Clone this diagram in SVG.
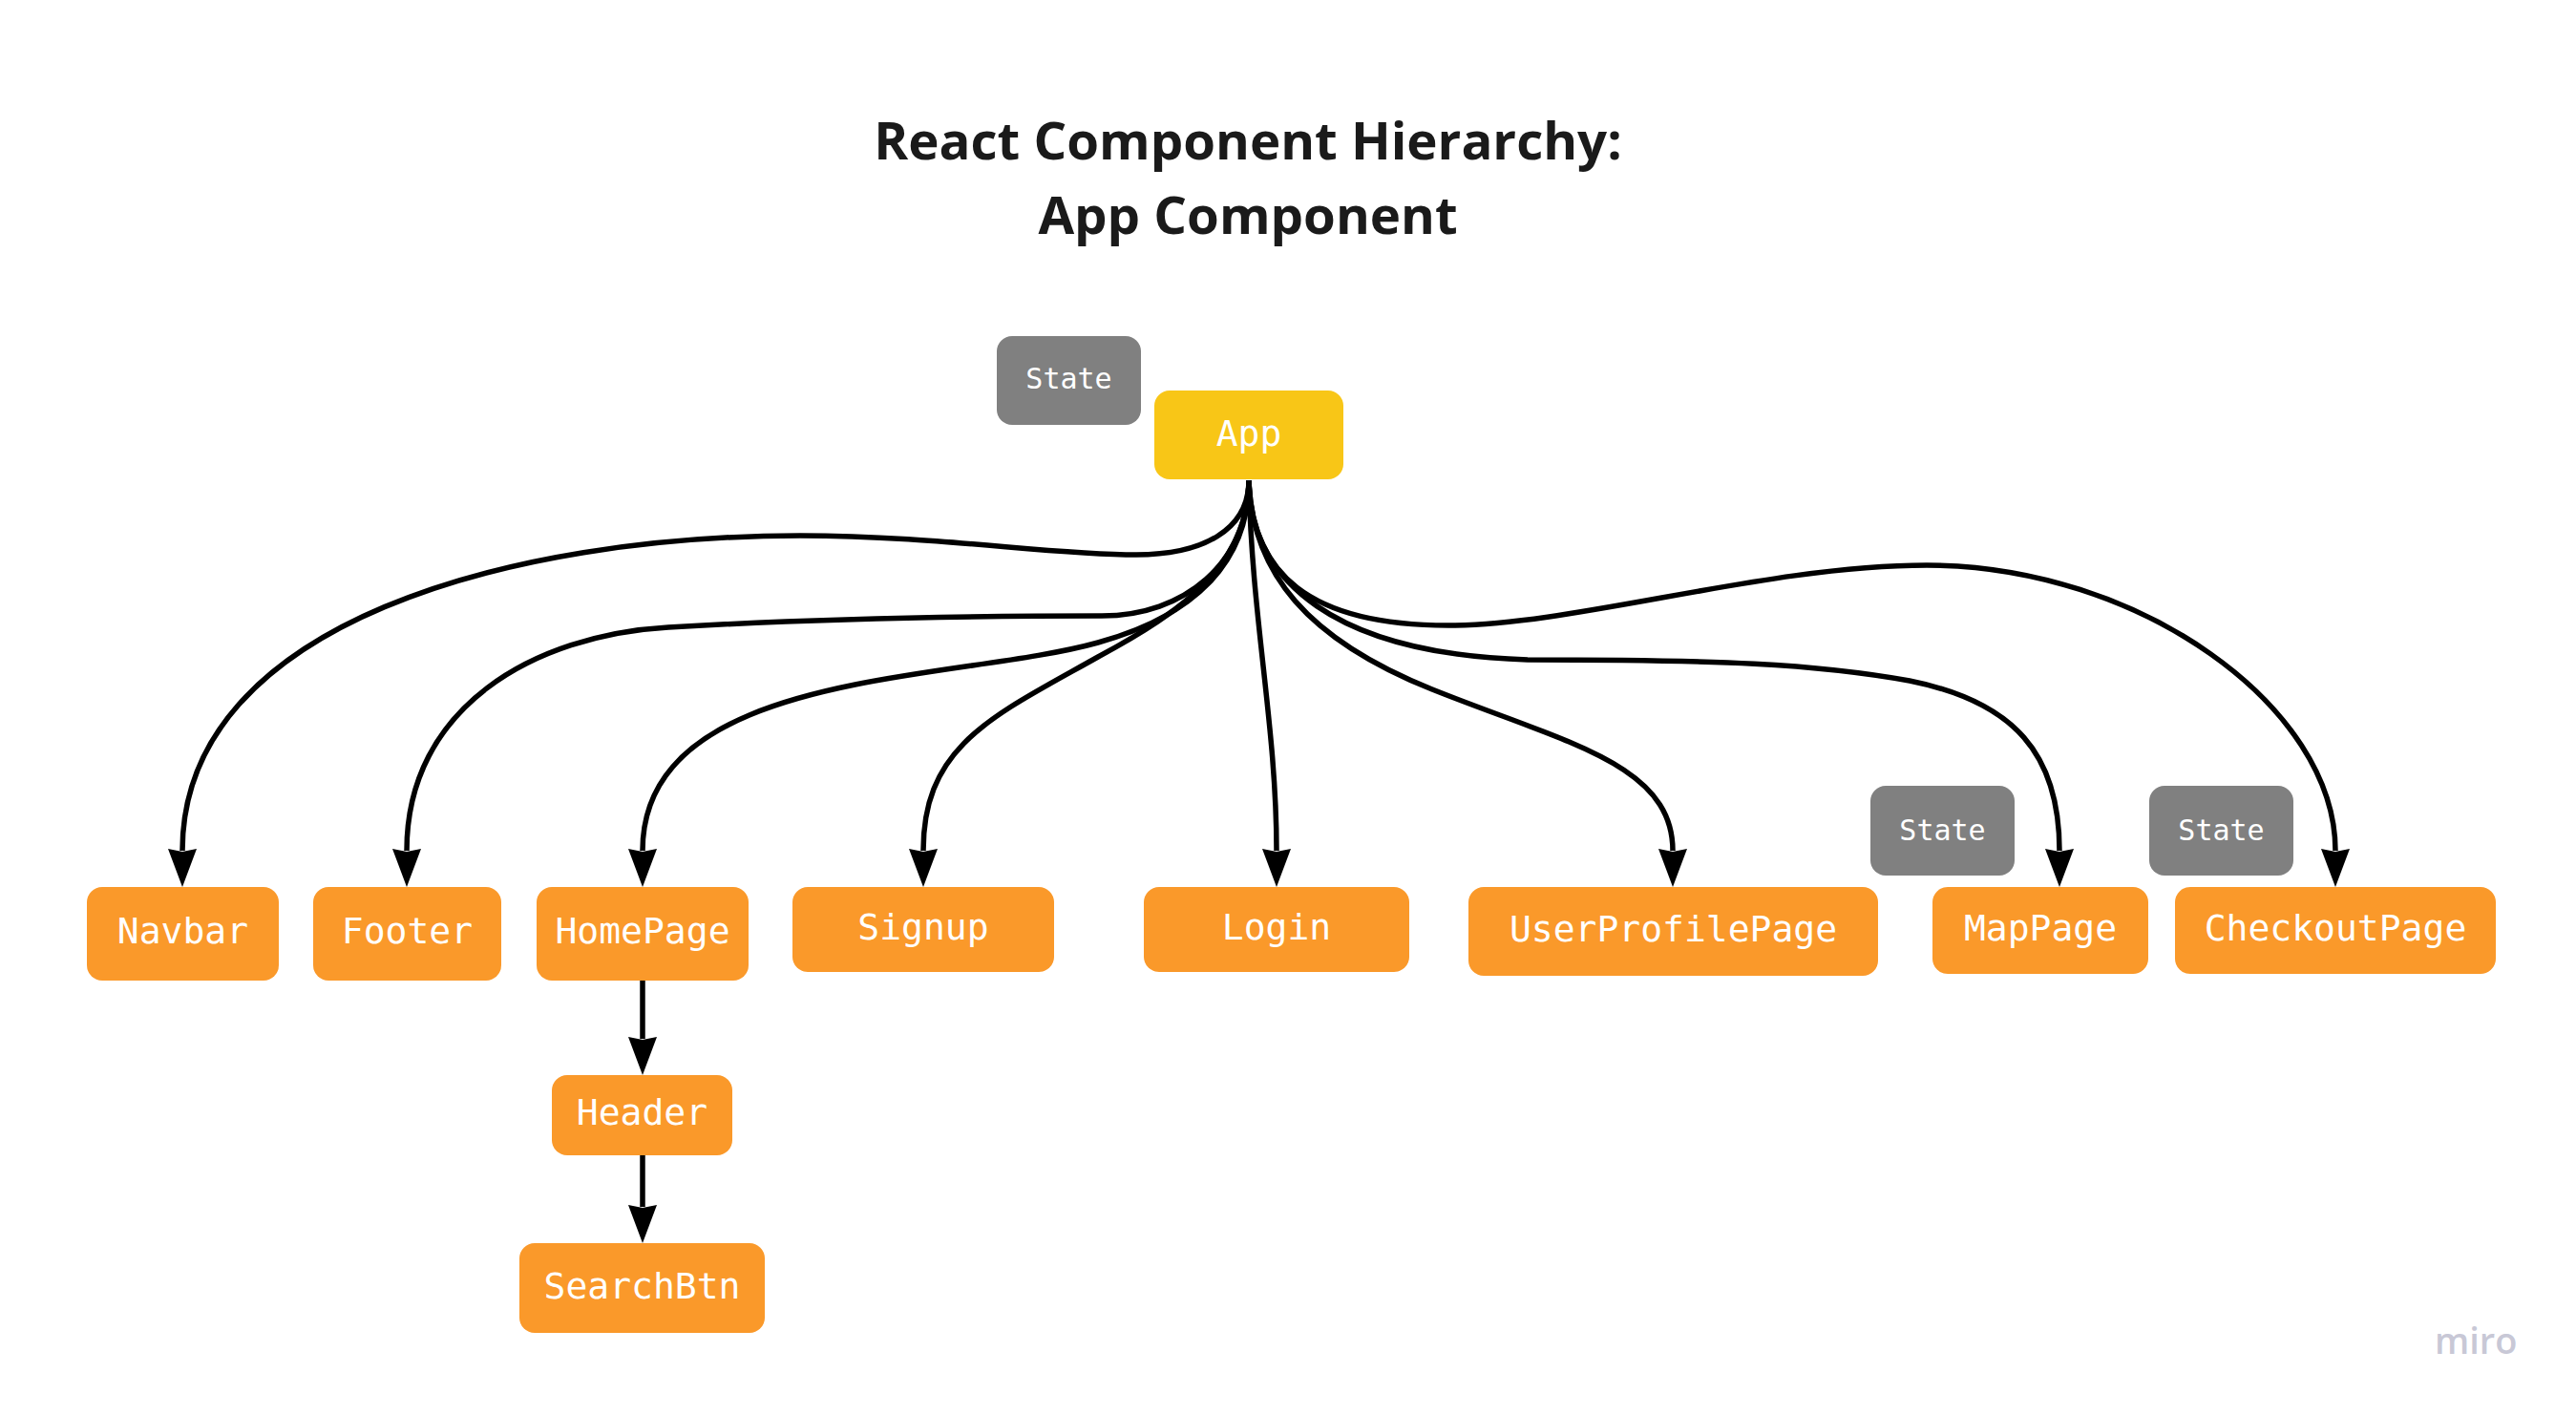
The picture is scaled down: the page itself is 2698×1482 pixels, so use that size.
<svg xmlns="http://www.w3.org/2000/svg" width="2698" height="1482" viewBox="0 0 2698 1482">
<style>
.title{font-family:"Open Sans","Noto Sans","Liberation Sans",sans-serif;font-weight:700;font-size:54.6px;fill:#1a1a1a;text-anchor:middle}
.lbl{font-family:"DejaVu Sans Mono","Liberation Mono",monospace;font-size:38px;fill:#ffffff;text-anchor:middle}
.st{font-family:"DejaVu Sans Mono","Liberation Mono",monospace;font-size:30px;fill:#ffffff;text-anchor:middle}
.org{fill:#FA992A}
.yel{fill:#F8C617}
.gry{fill:#808080}
.con{fill:none;stroke:#000;stroke-width:5.5;marker-end:url(#ah)}
.logo{font-family:"Open Sans","Noto Sans",sans-serif;font-weight:600;font-size:38px;fill:#C8C8D6}
</style>
<defs>
<marker id="ah" markerUnits="userSpaceOnUse" viewBox="0 0 40 30" markerWidth="40" markerHeight="30" refX="2" refY="15" orient="auto">
<path d="M0,0 L40,15 L0,30 L3,15 Z" fill="#000"/>
</marker>
</defs>
<rect width="2698" height="1482" fill="#ffffff"/>
<g id="title">
<text class="title" x="1307" y="167">React Component Hierarchy:</text>
<text class="title" x="1307" y="245">App Component</text>
</g>
<g id="connectors">
<path class="con" d="M1308,503 C1308,555 1260,581 1190,581 C1100,581 980,561 838,561 C540,561 191,650 191,891"/>
<path class="con" d="M1308,503 C1308,590 1240,645 1154,645 C1000,645 850,648 700,657 C560,665 426,740 426,891"/>
<path class="con" d="M1308,503 C1308,590 1250,645 1150,673 C1000,715 673,700 673,891"/>
<path class="con" d="M1308,503 C1308,590 1240,640 1150,688 C1040,750 967,780 967,891"/>
<path class="con" d="M1308,503 C1311,650 1337,760 1337,891"/>
<path class="con" d="M1308,503 C1311,600 1370,670 1500,722 C1640,778 1752,800 1752,891"/>
<path class="con" d="M1308,503 C1309,610 1400,685 1600,691 C1800,691 1900,695 2000,713 C2110,735 2157,790 2157,891"/>
<path class="con" d="M1308,503 C1311,600 1370,655 1517,655 C1650,655 1850,592 2018,592 C2240,592 2446,740 2446,891"/>
<path class="con" d="M673,1027 L673,1088"/>
<path class="con" d="M673,1210 L673,1264"/>
</g>
<g id="state-app"><rect class="gry" x="1044" y="352" width="151" height="93" rx="16"/><text class="st" x="1119.5" y="407">State</text></g>
<g id="app"><rect class="yel" x="1209" y="409" width="198" height="93" rx="16"/><text class="lbl" x="1308" y="467">App</text></g>
<g id="navbar"><rect class="org" x="91" y="929" width="201" height="98" rx="16"/><text class="lbl" x="191.5" y="988">Navbar</text></g>
<g id="footer"><rect class="org" x="328" y="929" width="197" height="98" rx="16"/><text class="lbl" x="426.5" y="988">Footer</text></g>
<g id="homepage"><rect class="org" x="562" y="929" width="222" height="98" rx="16"/><text class="lbl" x="673" y="988">HomePage</text></g>
<g id="signup"><rect class="org" x="830" y="929" width="274" height="89" rx="16"/><text class="lbl" x="967" y="984">Signup</text></g>
<g id="login"><rect class="org" x="1198" y="929" width="278" height="89" rx="16"/><text class="lbl" x="1337" y="984">Login</text></g>
<g id="userprofilepage"><rect class="org" x="1538" y="929" width="429" height="93" rx="16"/><text class="lbl" x="1752.5" y="986">UserProfilePage</text></g>
<g id="state-map"><rect class="gry" x="1959" y="823" width="151" height="94" rx="16"/><text class="st" x="2034.5" y="880">State</text></g>
<g id="mappage"><rect class="org" x="2024" y="929" width="226" height="91" rx="16"/><text class="lbl" x="2137" y="985">MapPage</text></g>
<g id="state-checkout"><rect class="gry" x="2251" y="823" width="151" height="94" rx="16"/><text class="st" x="2326.5" y="880">State</text></g>
<g id="checkoutpage"><rect class="org" x="2278" y="929" width="336" height="91" rx="16"/><text class="lbl" x="2446" y="985">CheckoutPage</text></g>
<g id="header"><rect class="org" x="578" y="1126" width="189" height="84" rx="16"/><text class="lbl" x="672.5" y="1178">Header</text></g>
<g id="searchbtn"><rect class="org" x="544" y="1302" width="257" height="94" rx="16"/><text class="lbl" x="672.5" y="1360">SearchBtn</text></g>
<text class="logo" x="2550" y="1418">miro</text>
</svg>
